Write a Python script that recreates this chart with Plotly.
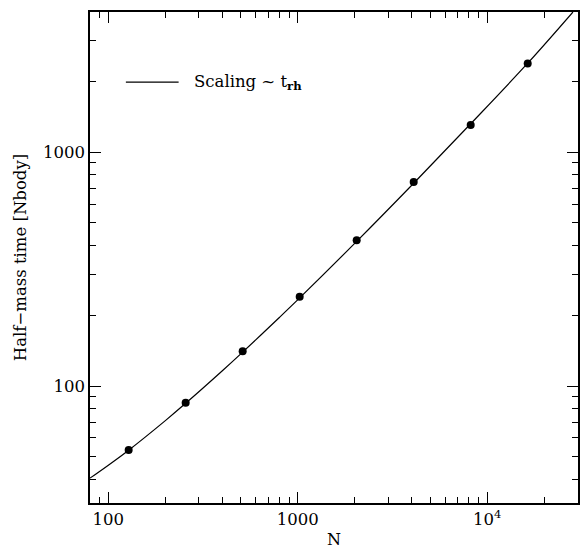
import numpy as np
import plotly.graph_objects as go

# Simulation results: particle number and measured half-mass time
n_particles = [128, 256, 512, 1024, 2048, 4096, 8192, 16384]
half_mass_time = [53.3, 84.9, 141, 241, 420, 747, 1308, 2399]

# Relaxation-time scaling curve (sampled)
scaling_n = [80, 100, 128, 200, 256, 400, 512, 800, 1024, 2048, 4096, 8192, 16384, 28400]
scaling_t = [40.4, 45.9, 53.2, 71.2, 84.4, 116.3, 139.7, 196.6, 238.4, 415.9, 737.3, 1324, 2404, 3981]

# Axis ticks
x_major = [100, 1000, 10000]
x_major_text = ["100", "1000", "10<sup>4</sup>"]
x_minor = [80, 90] + [k * 100 for k in range(2, 10)] + [k * 1000 for k in range(2, 10)] + [20000, 30000]
y_major = [100, 1000]
y_major_text = ["100", "1000"]
y_minor = [40, 50, 60, 70, 80, 90] + [k * 100 for k in range(2, 10)] + [2000, 3000]

FONT = "DejaVu Serif"

fig = go.Figure()
fig.add_trace(go.Scatter(
    x=scaling_n, y=scaling_t, mode="lines",
    line=dict(color="black", width=1.2, shape="spline", smoothing=1.0),
    showlegend=False, hoverinfo="skip",
))
fig.add_trace(go.Scatter(
    x=n_particles, y=half_mass_time, mode="markers",
    marker=dict(color="black", size=8),
    showlegend=False,
))

axis_common = dict(
    type="log", showgrid=False, zeroline=False,
    showline=True, linecolor="black", linewidth=1.6, mirror="allticks",
    ticks="inside", ticklen=11, tickwidth=1.2, tickcolor="black",
    tickfont=dict(family=FONT, size=16.5, color="black"),
)

fig.update_xaxes(
    **axis_common,
    range=[np.log10(80), 4.48],
    tickmode="array", tickvals=x_major, ticktext=x_major_text,
    minor=dict(tickmode="array", tickvals=x_minor, ticks="inside", ticklen=6,
               tickwidth=1.2, tickcolor="black", showgrid=False),
    title=dict(text="N", font=dict(family=FONT, size=16, color="black"), standoff=6),
)
fig.update_yaxes(
    **axis_common,
    range=[1.5, 3.6],
    tickmode="array", tickvals=y_major, ticktext=y_major_text,
    minor=dict(tickmode="array", tickvals=y_minor, ticks="inside", ticklen=6,
               tickwidth=1.2, tickcolor="black", showgrid=False),
    title=dict(text="Half\u2212mass time [Nbody]", font=dict(family=FONT, size=16.5, color="black"), standoff=12),
)

# Legend sample line and label
fig.add_shape(type="line", xref="paper", yref="paper",
              x0=0.0735, x1=0.1816, y0=0.857, y1=0.857,
              line=dict(color="black", width=1.2))
fig.add_annotation(xref="paper", yref="paper", x=0.2096, y=0.857,
                   xanchor="left", yanchor="middle", showarrow=False,
                   text="Scaling ~ t<sub><b>rh</b></sub>",
                   font=dict(family=FONT, size=16.5, color="black"))

fig.update_layout(
    width=583, height=549,
    margin=dict(l=90, r=3, t=12, b=44),
    paper_bgcolor="white", plot_bgcolor="white",
)

fig.write_html("out.html")
